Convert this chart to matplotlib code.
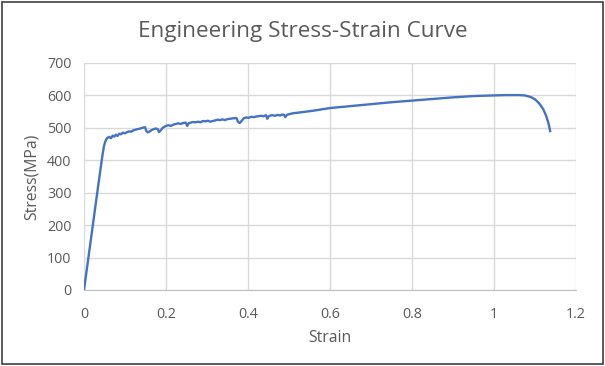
import matplotlib
matplotlib.use("Agg")
import matplotlib.pyplot as plt
from matplotlib.patches import Rectangle

strain = [0.0, 0.01, 0.02, 0.03, 0.04, 0.045, 0.049, 0.052, 0.055, 0.058, 0.062, 0.066,
          0.07, 0.074, 0.078, 0.082, 0.086, 0.09, 0.095, 0.1, 0.105, 0.11, 0.115, 0.12,
          0.125, 0.13, 0.135, 0.14, 0.145, 0.149, 0.152, 0.156, 0.16, 0.165, 0.17, 0.175,
          0.18, 0.183, 0.187, 0.192, 0.197, 0.2, 0.206, 0.212, 0.218, 0.224, 0.23, 0.236,
          0.242, 0.248, 0.252, 0.255, 0.26, 0.266, 0.272, 0.278, 0.284, 0.29, 0.296, 0.302,
          0.308, 0.314, 0.32, 0.326, 0.332, 0.338, 0.344, 0.35, 0.356, 0.362, 0.368, 0.372,
          0.376, 0.38, 0.385, 0.39, 0.396, 0.402, 0.408, 0.414, 0.42, 0.426, 0.432, 0.438,
          0.444, 0.447, 0.45, 0.455, 0.46, 0.466, 0.472, 0.478, 0.484, 0.488, 0.491, 0.495,
          0.5, 0.51, 0.53, 0.56, 0.6, 0.65, 0.7, 0.75, 0.8, 0.85, 0.9, 0.95, 1.0, 1.03,
          1.06, 1.075, 1.09, 1.1, 1.11, 1.12, 1.127, 1.132, 1.135, 1.137]
stress = [0, 92, 185, 278, 370, 415, 445, 458, 466, 470, 472, 468,
          476, 473, 479, 475, 482, 480, 485, 483, 487, 489, 488, 492,
          494, 496, 497, 499, 501, 502, 490, 486, 489, 493, 496, 498,
          496, 487, 492, 500, 504, 506, 508, 506, 510, 512, 514, 512,
          515, 516, 506, 514, 516, 518, 517, 519, 517, 521, 520, 522,
          519, 521, 523, 525, 524, 526, 524, 527, 528, 529, 530, 530,
          518, 515, 522, 530, 532, 531, 534, 533, 535, 536, 537, 536,
          539, 528, 535, 538, 539, 537, 540, 538, 541, 540, 533, 540,
          542, 545, 548, 553, 561, 567, 573, 579, 584, 589, 594, 598, 600, 601,
          601, 600, 595, 588, 576, 558, 538, 518, 503, 490]

xticks = [0, 0.2, 0.4, 0.6, 0.8, 1, 1.2]
xticklabels = ["0", "0.2", "0.4", "0.6", "0.8", "1", "1.2"]
yticks = [0, 100, 200, 300, 400, 500, 600, 700]

plt.rcParams['font.family'] = ['Open Sans', 'DejaVu Sans']
gray = "#595959"

fig = plt.figure(figsize=(6.05, 3.66), dpi=100)
ax = fig.add_axes([0.1388, 0.2077, 0.8132, 0.6202])
ax.plot(strain, stress, color="#4472C4", linewidth=1.7, solid_joinstyle="round")
ax.set_xlim(0, 1.2)
ax.set_ylim(0, 700)
ax.set_xticks(xticks)
ax.set_xticklabels(xticklabels)
ax.set_yticks(yticks)
ax.grid(True, color="#D9D9D9", linewidth=1)
ax.set_axisbelow(True)
for s in ["top", "right", "left"]:
    ax.spines[s].set_visible(False)
ax.spines["bottom"].set_color("#BFBFBF")
ax.tick_params(length=0, colors=gray, labelsize=10.3)
ax.tick_params(axis="x", pad=12)
ax.tick_params(axis="y", pad=9)
ax.set_xlabel("Strain", color=gray, fontsize=11.3, labelpad=6)
ax.set_ylabel("Stress(MPa)", color=gray, fontsize=11.3, labelpad=5)
fig.text(0.5, 0.915, "Engineering Stress-Strain Curve", ha="center", va="center",
         color=gray, fontsize=16.2)
fig.patches.append(Rectangle((0.003, 0.005), 0.994, 0.99, transform=fig.transFigure,
                             fill=False, edgecolor="#404040", linewidth=1.2))
fig.savefig("out.png", dpi=100)
